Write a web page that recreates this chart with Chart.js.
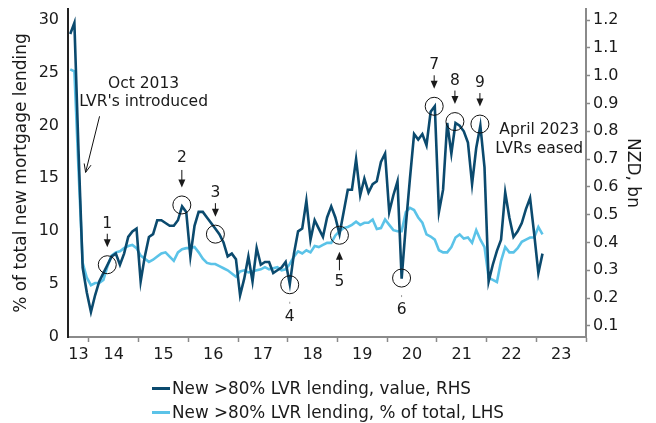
<!DOCTYPE html>
<html>
<head>
<meta charset="utf-8">
<script src="https://cdn.jsdelivr.net/npm/chart.js@4.4.1/dist/chart.umd.min.js"></script>
<style>
  html, body { margin:0; padding:0; background:#fff; }
  #wrap { position:relative; width:656px; height:423px; font-family:"DejaVu Sans", Verdana, sans-serif; color:#1a1a1a; }
  #chart { position:absolute; left:0; top:0; }
  .leg { position:absolute; left:152px; font-size:16.8px; line-height:20px; white-space:nowrap; }
  .leg .sw { display:inline-block; width:18px; height:3px; vertical-align:middle; margin-right:2px; position:relative; top:-1px; }
</style>
</head>
<body>
<div id="wrap">
  <canvas id="chart" width="656" height="423"></canvas>
  <div class="leg" style="top:378px"><span class="sw" style="background:#0b4a6e"></span>New &gt;80% LVR lending, value, RHS</div>
  <div class="leg" style="top:402px"><span class="sw" style="background:#5bc3e8"></span>New &gt;80% LVR lending, % of total, LHS</div>
</div>
<script>
// --- DATA (monthly, Aug 2013 -> Feb 2023) ---
const START_YEAR = 2013, START_MONTH = 8;

// New >80% LVR lending, value, NZD bn (RHS)
const valueRHS = [
  1.15, 1.19, 0.73, 0.31, 0.22,                                        // 2013
  0.15, 0.21, 0.26, 0.29, 0.32, 0.35, 0.36, 0.32, 0.36, 0.42, 0.44, 0.45, // 2014
  0.26, 0.35, 0.42, 0.43, 0.48, 0.48, 0.47, 0.46, 0.46, 0.48, 0.53, 0.51, // 2015
  0.35, 0.46, 0.51, 0.51, 0.49, 0.47, 0.45, 0.43, 0.40, 0.35, 0.36, 0.34, // 2016
  0.21, 0.27, 0.35, 0.26, 0.38, 0.32, 0.33, 0.33, 0.29, 0.30, 0.31, 0.33, // 2017
  0.25, 0.36, 0.44, 0.45, 0.55, 0.41, 0.48, 0.45, 0.42, 0.49, 0.53, 0.49, // 2018
  0.43, 0.51, 0.59, 0.59, 0.70, 0.57, 0.63, 0.58, 0.61, 0.62, 0.69, 0.72, // 2019
  0.51, 0.57, 0.62, 0.27, 0.46, 0.63, 0.79, 0.77, 0.79, 0.75, 0.87, 0.89, // 2020
  0.51, 0.59, 0.83, 0.72, 0.83, 0.82, 0.80, 0.76, 0.61, 0.74, 0.82, 0.67, // 2021
  0.26, 0.32, 0.37, 0.41, 0.58, 0.49, 0.42, 0.44, 0.47, 0.52, 0.56, 0.43, // 2022
  0.29, 0.36                                                            // 2023
];

// New >80% LVR lending, % of total (LHS)
const shareLHS = [
  25.3, 25.1, 15.8, 7.0, 5.6,
  4.9, 5.1, 5.1, 5.4, 6.7, 7.7, 8.0, 8.1, 8.4, 8.6, 8.7, 8.4,
  7.7, 7.4, 7.1, 7.3, 7.6, 7.9, 8.0, 7.6, 7.2, 8.0, 8.3, 8.4,
  8.4, 8.5, 8.0, 7.4, 7.0, 6.9, 6.9, 6.7, 6.5, 6.3, 6.0, 5.7,
  6.2, 6.3, 6.1, 6.2, 6.3, 6.4, 6.6, 6.4, 6.5, 6.6, 6.3, 6.4,
  6.9, 7.6, 8.1, 7.9, 8.2, 8.0, 8.6, 8.5, 8.7, 8.9, 8.9, 9.6,
  10.0, 10.3, 10.4, 10.6, 10.9, 10.6, 10.8, 10.8, 11.1, 10.2, 10.3, 11.1,
  10.6, 10.1, 10.0, 10.0, 11.8, 12.2, 12.0, 11.3, 10.8, 9.7, 9.5, 9.2,
  8.2, 8.0, 8.0, 8.5, 9.4, 9.7, 9.3, 9.4, 8.9, 10.1, 9.2, 8.5,
  5.6, 5.4, 5.2, 7.2, 8.5, 8.0, 8.0, 8.4, 9.0, 9.2, 9.4, 9.4,
  10.4, 9.7
];

// axis ticks
const yearBounds = [2014, 2015, 2016, 2017, 2018, 2019, 2020, 2021, 2022, 2023, 2024];
const yearLabels = ['13', '14', '15', '16', '17', '18', '19', '20', '21', '22', '23'];
const leftTicks = [0, 5, 10, 15, 20, 25, 30];
const rightTicks = [0.1, 0.2, 0.3, 0.4, 0.5, 0.6, 0.7, 0.8, 0.9, 1.0, 1.1, 1.2];
const LEFT_TITLE = '% of total new mortgage lending';
const RIGHT_TITLE = 'NZD, bn';

// numbered markers (circle centre: date, RHS value)
const markerLabels = ['1', '2', '3', '4', '5', '6', '7', '8', '9'];
const markerDates = [2014.37, 2015.87, 2016.545, 2018.04, 2019.04, 2020.29, 2020.946, 2021.363, 2021.866];
const markerValues = [0.32, 0.535, 0.43, 0.248, 0.426, 0.272, 0.89, 0.835, 0.826];
const markerKind = ['down', 'downLong', 'down', 'dot', 'up', 'dot', 'down', 'down', 'down'];

const X_MIN = 2013.58, X_MAX = 2024;

const DARK = '#0b4a6e';
const LIGHT = '#5bc3e8';
const AXIS_GREY = '#8a8a8a';
const TEXT = '#1a1a1a';
const FONT = '"DejaVu Sans", Verdana, sans-serif';

const monthDates = valueRHS.map((_, i) => START_YEAR + (START_MONTH - 1 + i + 0.5) / 12);
const labelCentres = yearLabels.map((_, i) => i === 0 ? (X_MIN + yearBounds[0]) / 2 : 2013 + i + 0.5);

// --- ANNOTATIONS ---
function arrowHead(ctx, x, tipY, dir){
    ctx.beginPath();
    ctx.moveTo(x, tipY);
    ctx.lineTo(x - 3.5, tipY - dir * 8);
    ctx.lineTo(x + 3.5, tipY - dir * 8);
    ctx.closePath();
    ctx.fill();
}

const annotations = {
    id: 'annotations',
    afterDatasetsDraw(chart){
        const {ctx, chartArea} = chart;
        const xs = chart.scales.x, yl = chart.scales.y, yr = chart.scales.y2;
        ctx.save();
        ctx.strokeStyle = '#111';
        ctx.fillStyle = TEXT;
        ctx.font = '15.5px ' + FONT;
        ctx.textAlign = 'center';
        ctx.textBaseline = 'middle';

        markerLabels.forEach((lab, i) => {
            const cx = xs.getPixelForValue(markerDates[i]);
            const cy = yr.getPixelForValue(markerValues[i]);
            ctx.lineWidth = 1;
            ctx.beginPath();
            ctx.arc(cx, cy, 9, 0, Math.PI * 2);
            ctx.stroke();
            const k = markerKind[i];
            if(k === 'down' || k === 'downLong'){
                const top = k === 'downLong' ? 35 : 31;
                ctx.fillText(lab, cx, cy - top - (k === 'downLong' ? 12 : 10));
                ctx.beginPath(); ctx.moveTo(cx, cy - top); ctx.lineTo(cx, cy - 24); ctx.stroke();
                arrowHead(ctx, cx, cy - 17.5, 1);
            } else if(k === 'up'){
                arrowHead(ctx, cx, cy + 16.5, -1);
                ctx.beginPath(); ctx.moveTo(cx, cy + 23); ctx.lineTo(cx, cy + 35); ctx.stroke();
                ctx.fillText(lab, cx, cy + 47);
            } else {
                ctx.fillStyle = '#999';
                ctx.fillRect(cx - 0.5, cy + 17, 1, 2);
                ctx.fillStyle = TEXT;
                ctx.fillText(lab, cx, cy + 32);
            }
        });

        // Oct 2013 note
        const ox = xs.getPixelForValue(2015.10), oy = yl.getPixelForValue(23.96);
        ctx.fillText('Oct 2013', ox, oy);
        ctx.fillText("LVR's introduced", ox, oy + 18);
        const ax1 = xs.getPixelForValue(2014.215), ay1 = yl.getPixelForValue(20.86);
        const ax2 = xs.getPixelForValue(2013.934), ay2 = yl.getPixelForValue(15.56);
        ctx.lineWidth = 1;
        ctx.beginPath(); ctx.moveTo(ax1, ay1); ctx.lineTo(ax2, ay2); ctx.stroke();
        const ang = Math.atan2(ay2 - ay1, ax2 - ax1);
        ctx.beginPath();
        ctx.moveTo(ax2 - 9 * Math.cos(ang - 0.4), ay2 - 9 * Math.sin(ang - 0.4));
        ctx.lineTo(ax2, ay2);
        ctx.lineTo(ax2 - 9 * Math.cos(ang + 0.4), ay2 - 9 * Math.sin(ang + 0.4));
        ctx.stroke();

        // April 2023 note
        const px = xs.getPixelForValue(2023.06), py = yl.getPixelForValue(19.54);
        ctx.fillText('April 2023', px, py);
        ctx.fillText('LVRs eased', px, py + 18.3);

        // axis titles, centred on the plot height
        const midY = (chartArea.top + chartArea.bottom) / 2;
        ctx.font = '17px ' + FONT;
        ctx.save();
        ctx.translate(22, midY);
        ctx.rotate(-Math.PI / 2);
        ctx.fillText(LEFT_TITLE, 0, 0);
        ctx.restore();
        ctx.save();
        ctx.translate(632, midY);
        ctx.rotate(Math.PI / 2);
        ctx.fillText(RIGHT_TITLE, 0, 0);
        ctx.restore();
        ctx.restore();
    }
};

// --- CHART ---
new Chart(document.getElementById('chart'), {
    type: 'line',
    data: {
        datasets: [
            {
                label: 'New >80% LVR lending, value, RHS',
                data: monthDates.map((d, i) => ({x: d, y: valueRHS[i]})),
                yAxisID: 'y2',
                borderColor: DARK,
                borderWidth: 2.6,
                pointRadius: 0,
                tension: 0,
                order: 1
            },
            {
                label: 'New >80% LVR lending, % of total, LHS',
                data: monthDates.map((d, i) => ({x: d, y: shareLHS[i]})),
                yAxisID: 'y',
                borderColor: LIGHT,
                borderWidth: 2.6,
                pointRadius: 0,
                tension: 0,
                order: 2
            }
        ]
    },
    options: {
        responsive: false,
        animation: false,
        layout: { padding: { top: 9, left: 0, right: 0, bottom: 0 } },
        plugins: { legend: { display: false }, tooltip: { enabled: false } },
        scales: {
            x: {
                type: 'linear', min: X_MIN, max: X_MAX,
                afterBuildTicks: s => {
                    const t = yearBounds.map(v => ({value: v})).concat(labelCentres.map(v => ({value: v})));
                    s.ticks = t.sort((a, b) => a.value - b.value);
                },
                afterFit: s => { s.height = 86; s.paddingLeft = 0; s.paddingRight = 0; },
                ticks: {
                    autoSkip: false, maxRotation: 0, minRotation: 0, padding: 3,
                    color: TEXT, font: { family: FONT, size: 16 },
                    callback: v => { const i = labelCentres.indexOf(v); return i >= 0 ? yearLabels[i] : ''; }
                },
                grid: {
                    drawOnChartArea: false, drawTicks: true, tickLength: 5, tickWidth: 1.5,
                    tickColor: c => (c.tick && Number.isInteger(c.tick.value)) ? AXIS_GREY : 'rgba(0,0,0,0)'
                },
                border: { color: AXIS_GREY, width: 2 }
            },
            y: {
                position: 'left', min: 0, max: 31,
                afterBuildTicks: s => { s.ticks = leftTicks.map(v => ({value: v})); },
                afterFit: s => { s.width = 68; s.paddingTop = 0; s.paddingBottom = 0; },
                ticks: { padding: 9, color: TEXT, font: { family: FONT, size: 16 } },
                grid: { drawOnChartArea: false, drawTicks: false },
                border: { color: '#222', width: 2 }
            },
            y2: {
                position: 'right', min: 0.06, max: 1.24,
                afterBuildTicks: s => { s.ticks = rightTicks.map(v => ({value: v})); },
                afterFit: s => { s.width = 70; s.paddingTop = 0; s.paddingBottom = 0; },
                ticks: { padding: 3, color: TEXT, font: { family: FONT, size: 16 }, callback: v => v.toFixed(1) },
                grid: { drawOnChartArea: false, drawTicks: true, tickLength: 4, tickColor: AXIS_GREY, tickWidth: 1.5 },
                border: { color: AXIS_GREY, width: 2 }
            }
        }
    },
    plugins: [annotations]
});
</script>
</body>
</html>
